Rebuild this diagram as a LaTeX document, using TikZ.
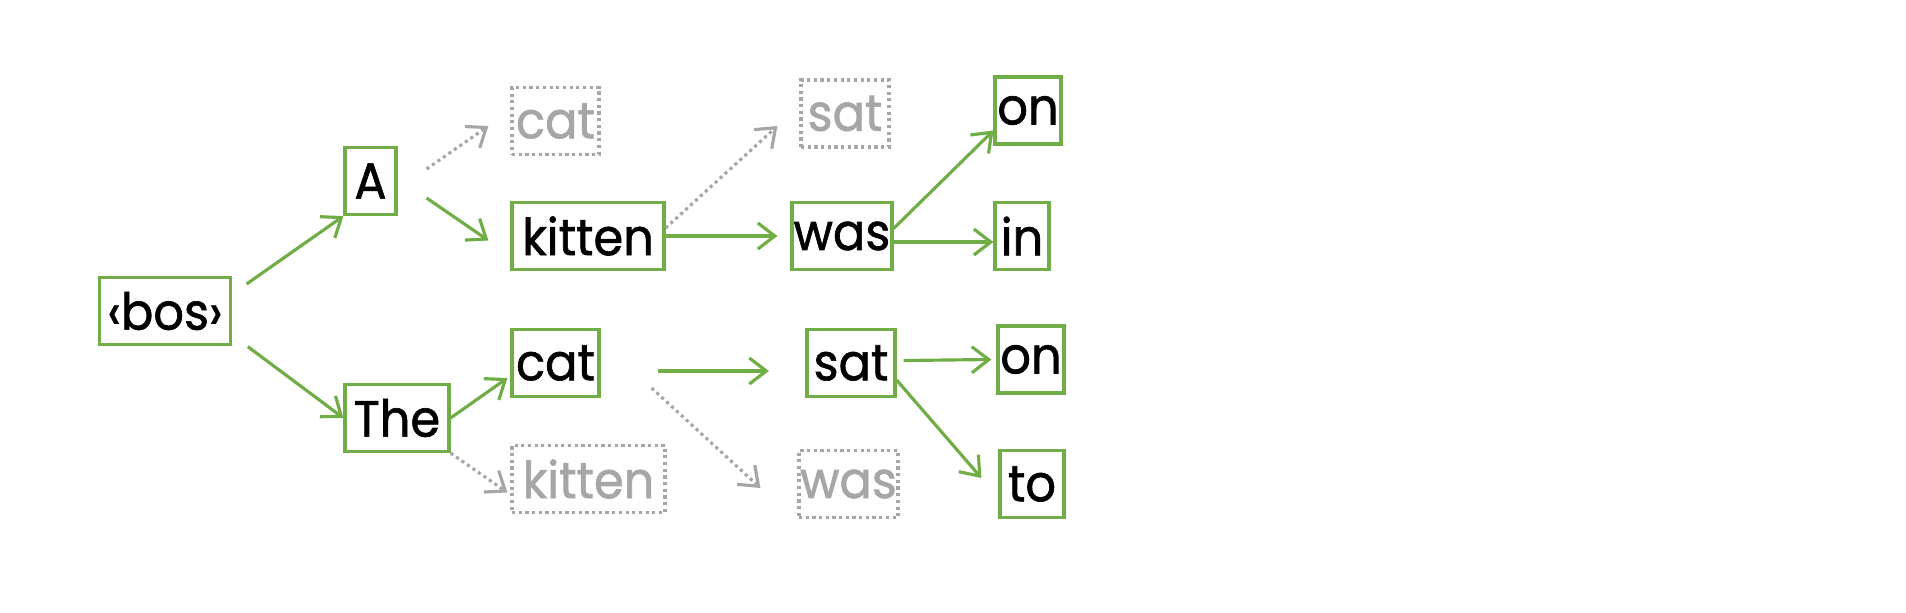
\documentclass[tikz,border=0pt]{standalone}
\usepackage{fontspec}
\setmainfont{Poppins}
\newfontfamily\tokfont{Poppins}[FakeBold=1.2, FakeStretch=0.94]
\usepackage{xcolor}
\usetikzlibrary{arrows.meta,positioning}
\definecolor{keepgreen}{HTML}{70AD47}
\definecolor{prunegrey}{HTML}{A6A6A6}
\tikzset{
  tok/.style={draw=keepgreen, line width=0.9pt, minimum height=0.67cm, inner sep=0pt, fill=white, font=\tokfont\fontsize{14.5}{17}\selectfont},
  pruned/.style={tok, draw=prunegrey, dash pattern=on 0.9pt off 1pt, text=prunegrey},
  arr/.style={draw=keepgreen, line width=0.9pt, -{Straight Barb[length=1.7mm,width=2.6mm]}},
  prunedarr/.style={arr, draw=prunegrey, dash pattern=on 0.9pt off 1pt},
}

\begin{document}
\begin{tikzpicture}
    \useasboundingbox (0,0) rectangle (19.06,-6.12);

    \node [tok, minimum width=1.31cm] (bos) at (1.65,-3.11) {‹bos›};

    % beam through "A"
    \node [tok, minimum width=0.51cm] (a) at (3.705,-1.81) {A};
    \node [pruned, minimum width=0.87cm] (catA) at (5.555,-1.21) {cat};
    \node [tok, minimum width=1.52cm] (kittenA) at (5.88,-2.36) {kitten};
    \node [pruned, minimum width=0.88cm] (satA) at (8.45,-1.135) {sat};
    \node [tok, minimum width=1.00cm] (wasA) at (8.42,-2.36) {was};
    \node [tok, minimum width=0.66cm] (onA) at (10.28,-1.105) {on};
    \node [tok, minimum width=0.54cm] (inA) at (10.22,-2.36) {in};

    % beam through "The"
    \node [tok, minimum width=1.04cm] (the) at (3.97,-4.18) {The};
    \node [tok, minimum width=0.87cm] (catT) at (5.555,-3.63) {cat};
    \node [pruned, minimum width=1.53cm] (kittenT) at (5.885,-4.79) {kitten};
    \node [tok, minimum width=0.88cm] (satT) at (8.51,-3.63) {sat};
    \node [pruned, minimum width=0.99cm] (wasT) at (8.485,-4.84) {was};
    \node [tok, minimum width=0.66cm] (onT) at (10.31,-3.595) {on};
    \node [tok, minimum width=0.64cm] (toT) at (10.32,-4.84) {to};

    % connectors
    \draw [arr] ([shift={(0.145,0.27)}]bos.east) -- (a.south west);
    \draw [arr] ([shift={(0.157,-0.356)}]bos.east) -- (the.west);
    \draw [arr] ([shift={(0.29,-0.17)}]a.east) -- ([shift={(-0.22,-0.045)}]kittenA.west);
    \draw [prunedarr] ([shift={(0.29,0.12)}]a.east) -- ([shift={(-0.22,-0.05)}]catA.west);
    \draw [arr] (kittenA.east) -- ([xshift=-0.13cm]wasA.west);
    \draw [prunedarr] ([yshift=0.08cm]kittenA.east) -- ([shift={(-0.22,-0.125)}]satA.west);
    \draw [arr] ([yshift=0.075cm]wasA.east) -- ([yshift=-0.2cm]onA.west);
    \draw [arr] ([yshift=-0.06cm]wasA.east) -- ([yshift=-0.06cm]inA.west);
    \draw [arr] (the.east) -- ([shift={(-0.03,-0.15)}]catT.west);
    \draw [prunedarr] (the.south east) -- ([shift={(-0.03,-0.135)}]kittenT.west);
    \draw [arr] ([shift={(0.57,-0.08)}]catT.east) -- ([shift={(-0.365,-0.08)}]satT.west);
    \draw [prunedarr] ([shift={(0.51,-0.25)}]catT.east) -- ([shift={(-0.37,-0.04)}]wasT.west);
    \draw [arr] ([shift={(0.07,0.025)}]satT.east) -- ([xshift=-0.05cm]onT.west);
    \draw [arr] ([yshift=-0.17cm]satT.east) -- ([shift={(-0.17,0.06)}]toT.west);
\end{tikzpicture}
\end{document}
